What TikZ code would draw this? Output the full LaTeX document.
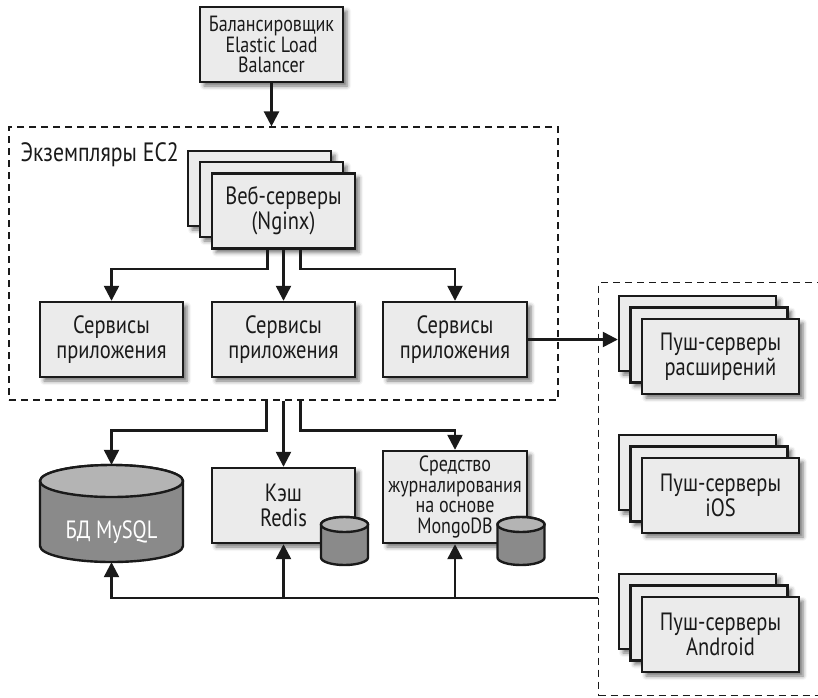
\documentclass[tikz,border=0pt]{standalone}
\usepackage{fontspec}
\setmainfont{PT Sans}[FakeStretch=0.82]
\usepackage{tikz}
\usetikzlibrary{arrows.meta, positioning, calc, shadows.blur}
\definecolor{boxGray}{HTML}{EBEBEB}
\definecolor{cylBody}{HTML}{8A8A8A}
\definecolor{cylTop}{HTML}{B4B4B4}
\definecolor{lineDark}{HTML}{1A1A1A}

\begin{document}
\begin{tikzpicture}[x=1pt, y=-1pt,
box/.style={rectangle, draw=lineDark, fill=boxGray, line width=2.4pt, align=center, minimum width=143pt, minimum height=75pt, inner sep=2pt, text=lineDark, font=\fontsize{25pt}{25pt}\selectfont, blur shadow={shadow xshift=4pt, shadow yshift=-4pt, shadow blur radius=4pt, shadow opacity=55}},
smalltext/.style={font=\fontsize{22pt}{20.5pt}\selectfont},
pushbox/.style={box, minimum width=157pt},
group/.style={rectangle, draw=lineDark, line width=1.2pt, dash pattern=on 7pt off 5pt},
dbline/.style={draw=lineDark, line width=2.4pt},
dbtext/.style={rectangle, inner sep=0pt},
arrow/.style={-{Triangle[length=15pt, width=15pt]}, line width=2.4pt, lineDark}
]
\path[use as bounding box, clip] (0,0) rectangle (818,697);

\node[box, smalltext] (lb) at (271.5,44.5) {Балансировщик\\Elastic Load\\Balancer};

\node[group, minimum width=549pt, minimum height=273pt] (ec2) at (283.5,263.5) {};
\node[anchor=base west, text=lineDark, font=\fontsize{26.5pt}{26pt}\selectfont] (ec2lbl) at (17,161) {Экземпляры EC2};

\node[box] (web3) at (259.5,188.5) {};
\node[box] (web2) at (271.5,199.5) {};
\node[box] (web) at (283.5,211) {Веб-серверы\\(Nginx)};

\node[box] (app1) at (111.5,339.5) {Сервисы\\приложения};
\node[box] (app2) at (283.5,339.5) {Сервисы\\приложения};
\node[box, minimum width=144pt] (app3) at (455,339.5) {Сервисы\\приложения};

\node[group, anchor=north west, minimum width=260pt, minimum height=413pt] (push) at (598,282) {};

\node[pushbox] (ext3) at (697.5,333.5) {};
\node[pushbox] (ext2) at (709,345) {};
\node[pushbox] (ext) at (720.5,356.5) {Пуш-серверы\\расширений};

\node[pushbox] (ios3) at (697.5,472.5) {};
\node[pushbox] (ios2) at (709,484) {};
\node[pushbox] (ios) at (720.5,495.5) {Пуш-серверы\\iOS};

\node[pushbox] (andr3) at (697.5,611.5) {};
\node[pushbox] (andr2) at (709,623) {};
\node[pushbox] (andr) at (720.5,634.5) {Пуш-серверы\\Android};

% MySQL cylinder
\draw[dbline, fill=cylBody] (40,481) -- (40,546) arc[start angle=180, end angle=360, x radius=71.5pt, y radius=16pt] -- (183,481) arc[start angle=0, end angle=180, x radius=71.5pt, y radius=16pt] -- cycle;
\draw[dbline, fill=cylTop] (111.5,481) ellipse[x radius=71.5pt, y radius=16pt];
\node[dbtext, minimum width=143pt, minimum height=97pt, label={[text=white, font=\fontsize{25pt}{25pt}\selectfont, yshift=-19pt]center:БД MySQL}] (mysql) at (111.5,513.5) {};

\node[box] (redis) at (283.5,505.5) {Кэш\\Redis};
\node[box, smalltext, minimum width=144pt, minimum height=92pt] (mongo) at (455,497) {Средство\\журналирования\\на основе\\MongoDB};

% small cylinders
\draw[dbline, fill=cylBody] (321,524.5) -- (321,557.5) arc[start angle=180, end angle=360, x radius=23.5pt, y radius=7.5pt] -- (368,524.5) arc[start angle=0, end angle=180, x radius=23.5pt, y radius=7.5pt] -- cycle;
\draw[dbline, fill=cylTop] (344.5,524.5) ellipse[x radius=23.5pt, y radius=7.5pt];
\draw[dbline, fill=cylBody] (497.5,524.5) -- (497.5,557.5) arc[start angle=180, end angle=360, x radius=23.5pt, y radius=7.5pt] -- (544.5,524.5) arc[start angle=0, end angle=180, x radius=23.5pt, y radius=7.5pt] -- cycle;
\draw[dbline, fill=cylTop] (521,524.5) ellipse[x radius=23.5pt, y radius=7.5pt];

\draw[arrow] (lb) -- (lb |- ec2.north);
\draw[arrow] ([xshift=-16pt]web.south) -- ++(0,19) -| (app1.north);
\draw[arrow] (web) -- (app2);
\draw[arrow] ([xshift=17pt]web.south) -- ++(0,19) -| (app3.north);
\draw[arrow] (app3.east) -- (app3.east -| ext3.west);

\draw[arrow] ([xshift=-17pt]ec2.south) -- ++(0,30) -| (mysql.north);
\draw[arrow] (ec2.south) -- (redis.north);
\draw[arrow] ([xshift=17pt]ec2.south) -- ++(0,30) -| (mongo.north);

\coordinate (bus) at (598,598);
\draw[arrow] (bus) -| (mysql.south);
\draw[arrow] (bus -| redis.south) -- (redis.south);
\draw[arrow] (bus -| mongo.south) -- (mongo.south);
\end{tikzpicture}
\end{document}
